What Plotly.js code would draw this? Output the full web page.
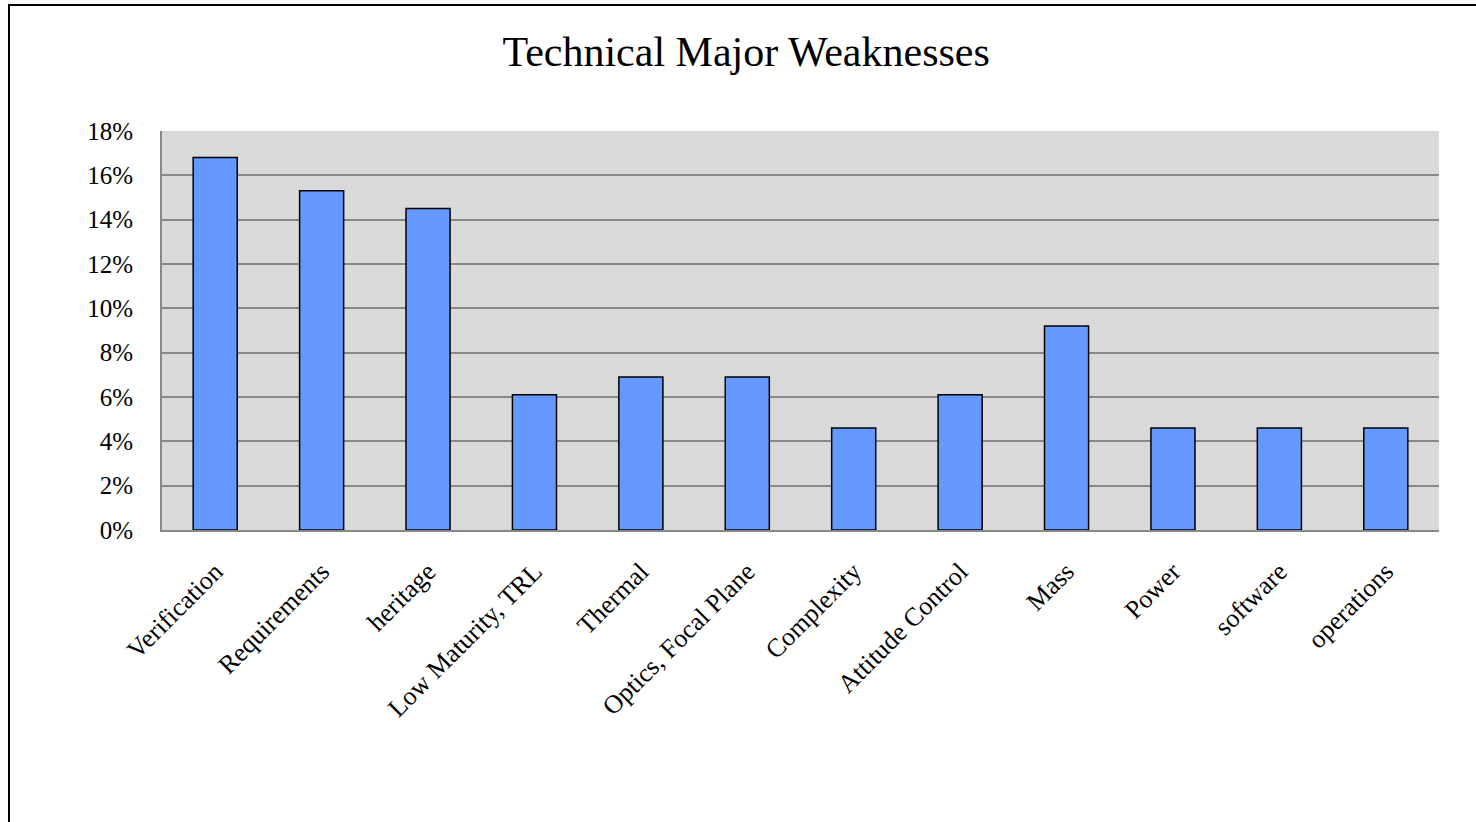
<!DOCTYPE html>
<html>
<head>
<meta charset="utf-8">
<script src="https://cdn.plot.ly/plotly-3.0.1.min.js"></script>
<style>
  body { margin: 0; background: #fff; }
  #frame { position: absolute; left: 8px; top: 4px; width: 2000px; height: 2000px;
           border-left: 2px solid #000; border-top: 2px solid #000; }
  #chart { position: absolute; left: 0; top: 0; width: 1476px; height: 822px; }
</style>
</head>
<body>
<div id="chart"></div>
<div id="frame"></div>
<script>
const categories = ['Verification', 'Requirements', 'heritage', 'Low Maturity, TRL', 'Thermal',
  'Optics, Focal Plane', 'Complexity', 'Attitude Control', 'Mass', 'Power', 'software', 'operations'];
const shares = [16.8, 15.3, 14.5, 6.1, 6.9, 6.9, 4.6, 6.1, 9.2, 4.6, 4.6, 4.6];
const yTicks = [0, 2, 4, 6, 8, 10, 12, 14, 16, 18];

const serif = 'Liberation Serif, Times New Roman, serif';

const data = [{
  type: 'bar',
  x: categories,
  y: shares,
  marker: { color: '#6699ff', line: { color: '#000', width: 1.5 } },
  hoverinfo: 'x+y'
}];

const layout = {
  width: 1476,
  height: 822,
  margin: { l: 162, r: 37, t: 131, b: 292 },
  paper_bgcolor: 'rgba(0,0,0,0)',
  plot_bgcolor: '#d9d9d9',
  bargap: 0.586,
  showlegend: false,
  font: { family: serif, color: '#000', size: 24 },
  title: {
    text: 'Technical Major Weaknesses',
    font: { family: serif, size: 42, color: '#000' },
    x: 0.5055, xanchor: 'center',
    y: 1 - 51 / 822, yanchor: 'middle'
  },
  xaxis: {
    tickangle: -45,
    tickfont: { family: serif, size: 26 },
    showgrid: false,
    showline: true, linecolor: '#888', linewidth: 2,
    ticks: '',
    ticklabelstandoff: 14
  },
  yaxis: {
    range: [0, 18],
    tickvals: yTicks,
    ticktext: yTicks.map(v => v + '%'),
    tickfont: { family: serif, size: 25 },
    showgrid: true, gridcolor: '#888', gridwidth: 2,
    showline: true, linecolor: '#888', linewidth: 2,
    zeroline: false,
    ticks: '',
    ticklabelstandoff: 22
  }
};

Plotly.newPlot('chart', data, layout, { displayModeBar: false, staticPlot: true });
</script>
</body>
</html>
